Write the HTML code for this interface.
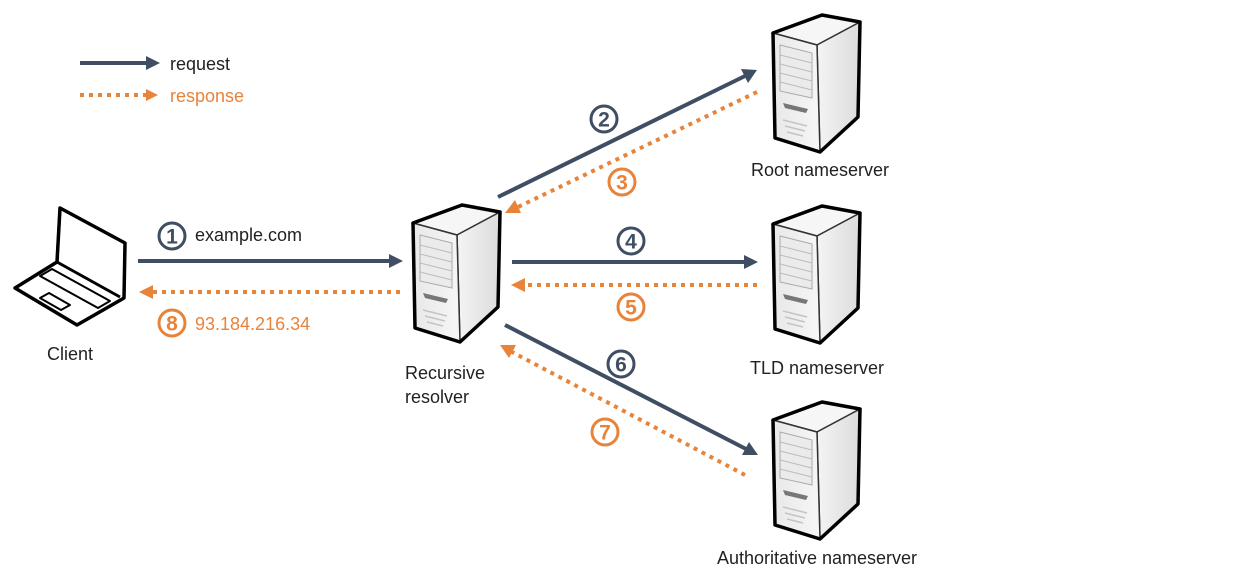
<!DOCTYPE html>
<html><head><meta charset="utf-8"><style>
html,body{margin:0;padding:0;background:#fff;}
svg{display:block;font-family:"Liberation Sans",sans-serif;}
</style></head><body>
<svg width="1258" height="571" viewBox="0 0 1258 571" xmlns="http://www.w3.org/2000/svg">
<defs>
<linearGradient id="fr" x1="0" y1="0" x2="1" y2="0"><stop offset="0" stop-color="#e8e8e8"/><stop offset="1" stop-color="#f6f6f6"/></linearGradient>
<linearGradient id="rt" x1="0" y1="0" x2="1" y2="0"><stop offset="0" stop-color="#f4f4f4"/><stop offset="1" stop-color="#dcdcdc"/></linearGradient>
<g id="srv">
  <path d="M1,18 L50,0 L88,7 L45,30 Z" fill="#f6f6f6" stroke="#333" stroke-width="1.5"/>
  <path d="M45,30 L88,7 L86,102 L48,137 Z" fill="url(#rt)" stroke="#333" stroke-width="1.5"/>
  <path d="M1,18 L45,30 L48,137 L3,123 Z" fill="url(#fr)" stroke="#333" stroke-width="1.5"/>
  <path d="M1,18 L50,0 L88,7 L86,102 L48,137 L3,123 Z" fill="none" stroke="#000" stroke-width="3.5" stroke-linejoin="round"/>
  <path d="M8,30 L40,38 L40,83 L8,76 Z" fill="#ebebeb" stroke="#aaa" stroke-width="1"/>
  <path d="M8,40 L40,48 M8,49 L40,57 M8,58 L40,66 M8,67 L40,75" stroke="#bbb" stroke-width="1"/>
  <path d="M11,88 L36,94 L34,98 L13,93 Z" fill="#777"/>
  <path d="M11,105 L35,111 M13,111 L33,116 M15,117 L31,121" stroke="#c4c4c4" stroke-width="1.5"/>
</g>
</defs>

<line x1="80" y1="63" x2="148" y2="63" stroke="#3f4e63" stroke-width="4"/>
<path d="M146,56 L160,63 L146,70 Z" fill="#3f4e63"/>
<text x="170" y="70" font-size="18" fill="#222">request</text>
<line x1="80" y1="95" x2="148" y2="95" stroke="#e8833a" stroke-width="4" stroke-dasharray="4,5"/>
<path d="M146,89 L158,95 L146,101 Z" fill="#e8833a"/>
<text x="170" y="102" font-size="18" fill="#e8833a">response</text>

<g fill="none" stroke="#000" stroke-linejoin="round">
  <path d="M60,208 L125,243 L124,298 L77,325 L15,288 L57,262 Z" fill="#fff" stroke-width="3.5"/>
  <path d="M60,208 L57,262 L120,297" stroke-width="3"/>
  <path d="M40,276 L52,269 L110,301 L98,308 Z" stroke-width="2"/>
  <path d="M40,298 L49,293 L70,305 L61,310 Z" stroke-width="2"/>
</g>
<text x="70" y="360" font-size="18" fill="#222" text-anchor="middle">Client</text>

<use href="#srv" x="412" y="205"/>
<use href="#srv" x="772" y="15"/>
<use href="#srv" x="772" y="206"/>
<use href="#srv" x="772" y="402"/>

<text x="405" y="379" font-size="18" fill="#222">Recursive</text>
<text x="405" y="403" font-size="18" fill="#222">resolver</text>
<text x="820" y="176" font-size="18" fill="#222" text-anchor="middle">Root nameserver</text>
<text x="817" y="374" font-size="18" fill="#222" text-anchor="middle">TLD nameserver</text>
<text x="817" y="564" font-size="18" fill="#222" text-anchor="middle">Authoritative nameserver</text>

<g stroke-width="4">
  <line x1="138" y1="261" x2="390" y2="261" stroke="#3f4e63"/>
  <line x1="400" y1="292" x2="152" y2="292" stroke="#e8833a" stroke-dasharray="4,5"/>
  <line x1="498" y1="197" x2="745" y2="76" stroke="#3f4e63"/>
  <line x1="757" y1="92" x2="518" y2="207" stroke="#e8833a" stroke-dasharray="4,5"/>
  <line x1="512" y1="262" x2="745" y2="262" stroke="#3f4e63"/>
  <line x1="757" y1="285" x2="524" y2="285" stroke="#e8833a" stroke-dasharray="4,5"/>
  <line x1="505" y1="325" x2="746" y2="449" stroke="#3f4e63"/>
  <line x1="745" y1="475" x2="512" y2="352" stroke="#e8833a" stroke-dasharray="4,5"/>
</g>
<g fill="#3f4e63">
  <path d="M389,254 L403,261 L389,268 Z"/>
  <path d="M741,69 L757,70 L748,83 Z"/>
  <path d="M744,255 L758,262 L744,269 Z"/>
  <path d="M749,442 L758,455 L742,455 Z"/>
</g>
<g fill="#e8833a">
  <path d="M153,285 L139,292 L153,299 Z"/>
  <path d="M515,200 L505,213 L521,213 Z"/>
  <path d="M525,278 L511,285 L525,292 Z"/>
  <path d="M516,345 L500,345 L509,358 Z"/>
</g>

<g font-size="21" font-weight="bold" text-anchor="middle" stroke-width="3" fill="none">
  <circle cx="172" cy="236" r="13" stroke="#3f4e63"/><text x="172" y="243.5" fill="#3f4e63" stroke="none">1</text>
  <circle cx="172" cy="323" r="13" stroke="#e8833a"/><text x="172" y="330.5" fill="#e8833a" stroke="none">8</text>
  <circle cx="604" cy="119" r="13" stroke="#3f4e63"/><text x="604" y="126.5" fill="#3f4e63" stroke="none">2</text>
  <circle cx="622" cy="182" r="13" stroke="#e8833a"/><text x="622" y="189.5" fill="#e8833a" stroke="none">3</text>
  <circle cx="631" cy="241" r="13" stroke="#3f4e63"/><text x="631" y="248.5" fill="#3f4e63" stroke="none">4</text>
  <circle cx="631" cy="307" r="13" stroke="#e8833a"/><text x="631" y="314.5" fill="#e8833a" stroke="none">5</text>
  <circle cx="621" cy="364" r="13" stroke="#3f4e63"/><text x="621" y="371.5" fill="#3f4e63" stroke="none">6</text>
  <circle cx="605" cy="432" r="13" stroke="#e8833a"/><text x="605" y="439.5" fill="#e8833a" stroke="none">7</text>
</g>
<text x="195" y="241" font-size="18" fill="#222">example.com</text>
<text x="195" y="330" font-size="18" fill="#e8833a">93.184.216.34</text>
</svg>
</body></html>
